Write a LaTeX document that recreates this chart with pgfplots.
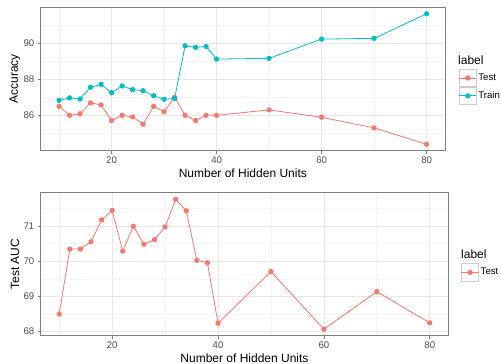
\documentclass[border=0pt]{standalone}
\usepackage{pgfplots}
\pgfplotsset{compat=1.18}
\usepackage{fontspec}
\setmainfont{Liberation Sans}
\definecolor{ctest}{HTML}{F8766D}
\definecolor{ctrain}{HTML}{00BFC4}
\definecolor{gridmaj}{HTML}{E8E8E8}
\definecolor{gridmin}{HTML}{F4F4F4}
\definecolor{bordergrey}{HTML}{7F7F7F}
\definecolor{ticktext}{HTML}{4D4D4D}
\pgfplotsset{
 ggstyle/.style={
   scale only axis,
   xmin=6.5, xmax=83.5,
   xtick={20,40,60,80},
   minor xtick={10,30,50,70},
   tick pos=left,
   tick align=outside,
   major tick length=3bp,
   minor tick length=0pt,
   grid=both,
   major grid style={gridmaj, line width=0.7bp},
   minor grid style={gridmin, line width=0.7bp},
   axis line style={bordergrey, line width=0.8bp},
   tick style={bordergrey, line width=0.6bp},
   /pgf/number format/assume math mode=true,
   ticklabel style={font=\fontsize{9.6bp}{11bp}\selectfont, text=ticktext},
   label style={font=\fontsize{12bp}{14bp}\selectfont},
   legend cell align=left,
   legend image code/.code={
     \draw[black!20, fill=white, line width=0.6bp] (0bp,-8.65bp) rectangle (17.3bp,8.65bp);
     \draw[mark repeat=2, mark phase=2, #1] plot coordinates {(0bp,0bp) (8.65bp,0bp) (17.3bp,0bp)};
   },
 },
 ggleg/.style={legend style={at={#1}, anchor=north west, draw=none, fill=none,
   inner sep=0pt, outer sep=0pt, row sep=0pt, column sep=0pt,
   nodes={inner sep=1.6bp, anchor=west, font=\fontsize{9.6bp}{11bp}\selectfont}}},
 testline/.style={ctest, line width=0.8bp, mark=*, mark size=2.2bp, mark options={solid}},
 trainline/.style={ctrain, line width=0.8bp, mark=*, mark size=2.2bp, mark options={solid}},
}
\begin{document}
\begin{tikzpicture}
\useasboundingbox (0,0) rectangle (501bp,364bp);
% top panel
\begin{axis}[ggstyle,
  at={(40.7bp,213.3bp)}, anchor=south west,
  width=404.3bp, height=143.4bp,
  ymin=84.03, ymax=92.01,
  ytick={86,88,90}, minor ytick={85,87,89,91},
  xlabel={Number of Hidden Units}, ylabel={Accuracy},
  xlabel style={at={(axis description cs:0.5,-0.1555)}, anchor=center},
  ylabel style={at={(axis description cs:-0.0636,0.5)}, anchor=center},
  ggleg={(axis description cs:1.0339,0.5697)},
]
\addplot[testline] coordinates {
(10,86.5) (12,86.0) (14,86.09) (16,86.69) (18,86.58) (20,85.71) (22,86.0) (24,85.91) (26,85.5) (28,86.5)
(30,86.2) (32,87.0) (34,86.0) (36,85.71) (38,86.0) (40,86.0) (50,86.3) (60,85.89) (70,85.3) (80,84.39)};
\addlegendentry{Test}
\addplot[trainline] coordinates {
(10,86.83) (12,86.97) (14,86.91) (16,87.56) (18,87.72) (20,87.26) (22,87.63) (24,87.43) (26,87.37) (28,87.09)
(30,86.89) (32,86.94) (34,89.87) (36,89.78) (38,89.83) (40,89.13) (50,89.17) (60,90.24) (70,90.28) (80,91.65)};
\addlegendentry{Train}
\end{axis}
\node[anchor=west, inner sep=0pt, font=\fontsize{12bp}{14bp}\selectfont] at (458bp,304bp) {label};
% bottom panel
\begin{axis}[ggstyle,
  at={(40.7bp,28.3bp)}, anchor=south west,
  width=407.6bp, height=143bp,
  ymin=67.885, ymax=71.955,
  ytick={68,69,70,71}, minor ytick={68.5,69.5,70.5,71.5},
  xlabel={Number of Hidden Units}, ylabel={Test AUC},
  xlabel style={at={(axis description cs:0.5,-0.155)}, anchor=center},
  ylabel style={at={(axis description cs:-0.0631,0.5)}, anchor=center},
  ggleg={(axis description cs:1.0312,0.505)},
]
\addplot[testline] coordinates {
(10,68.50) (12,70.35) (14,70.35) (16,70.56) (18,71.18) (20,71.45) (22,70.29) (24,71.0) (26,70.49) (28,70.62)
(30,70.98) (32,71.77) (34,71.44) (36,70.03) (38,69.96) (40,68.24) (50,69.71) (60,68.07) (70,69.14) (80,68.25)};
\addlegendentry{Test}
\end{axis}
\node[anchor=west, inner sep=0pt, font=\fontsize{12bp}{14bp}\selectfont] at (461bp,110bp) {label};
\end{tikzpicture}
\end{document}
